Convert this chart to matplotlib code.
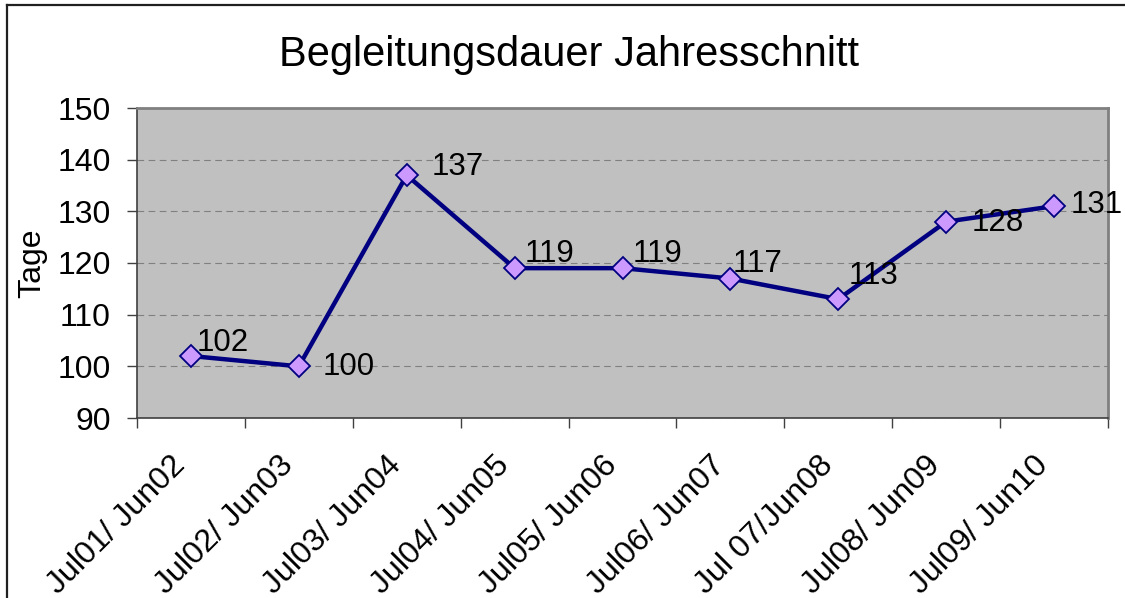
import matplotlib.pyplot as plt
from matplotlib.lines import Line2D
from matplotlib.transforms import ScaledTranslation

plt.rcParams['font.family'] = ['Liberation Sans', 'DejaVu Sans']

# Daten
perioden = ['Jul01/ Jun02', 'Jul02/ Jun03', 'Jul03/ Jun04', 'Jul04/ Jun05', 'Jul05/ Jun06',
            'Jul06/ Jun07', 'Jul 07/Jun08', 'Jul08/ Jun09', 'Jul09/ Jun10']
tage = [102, 100, 137, 119, 119, 117, 113, 128, 131]
# Versatz der Beschriftungen (Pixel rechts, Pixel hoch)
label_offsets = [(6, 13), (24, -1), (25, 8), (10, 14), (10, 14), (2, 14), (10, 23), (25, -1), (17, 1)]

fig = plt.figure(figsize=(11.25, 5.98), dpi=100)
ax = fig.add_axes([137 / 1125, 1 - 418 / 598, (1108 - 137) / 1125, (418 - 108) / 598])
ax.set_facecolor('#C0C0C0')

x = list(range(len(tage)))
ax.plot(x, tage, color='#000080', lw=3.2, marker='D', markersize=11,
        markerfacecolor='#CC99FF', markeredgecolor='#000080', markeredgewidth=1.3, zorder=3)

for xi, v, (dx, dy) in zip(x, tage, label_offsets):
    ax.annotate(str(v), (xi, v), xytext=(dx * 0.72, dy * 0.72), textcoords='offset points',
                ha='left', va='center', fontsize=22.5, color='black', zorder=4)

ax.set_xlim(-0.5, len(tage) - 0.5)
ax.set_ylim(90, 150)
ax.set_yticks(range(90, 151, 10))
ax.yaxis.grid(True, color='#808080', linestyle=(0, (6, 4)), lw=0.8)
ax.set_axisbelow(True)

ax.set_xticks(x)
ax.set_xticklabels(perioden, rotation=45, ha='right', va='center', rotation_mode='anchor', fontsize=23)
ax.set_xticks([i - 0.5 for i in range(len(tage) + 1)], minor=True)
ax.tick_params(axis='x', which='major', length=0, pad=31)
ax.tick_params(axis='x', which='minor', length=7, width=1, color='#404040')
ax.tick_params(axis='y', length=7, width=1, color='#404040', labelsize=23, pad=12)
for lbl in ax.get_xticklabels():
    lbl.set_transform(lbl.get_transform() + ScaledTranslation(-0.1, 0, fig.dpi_scale_trans))

for s in ['left', 'bottom']:
    ax.spines[s].set_color('#404040')
    ax.spines[s].set_linewidth(1.2)
for s in ['top', 'right']:
    ax.spines[s].set_color('#808080')
    ax.spines[s].set_linewidth(2)

ax.set_ylabel('Tage', fontsize=23)
ax.yaxis.set_label_coords(-90 / 971, 0.5)

fig.text(0.506, 1 - 55 / 598, 'Begleitungsdauer Jahresschnitt', ha='center', va='center', fontsize=30)

# Rahmen
fig.add_artist(Line2D([7 / 1125, 7 / 1125], [0, 1 - 5 / 598], transform=fig.transFigure, color='#202020', lw=1.6))
fig.add_artist(Line2D([7 / 1125, 1], [1 - 5 / 598, 1 - 5 / 598], transform=fig.transFigure, color='#202020', lw=1.6))

fig.savefig('out.png', dpi=100)
